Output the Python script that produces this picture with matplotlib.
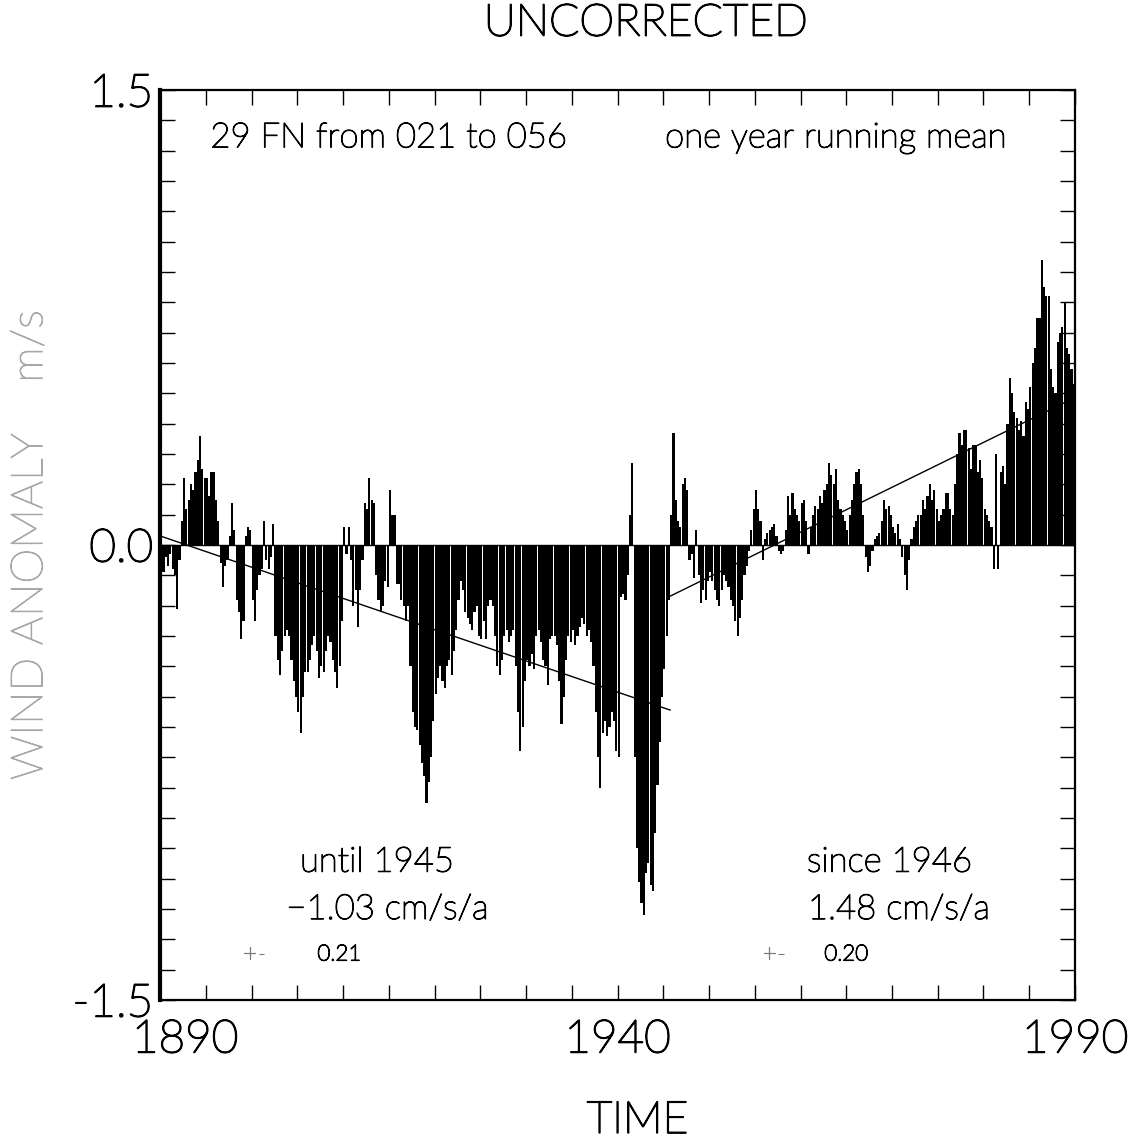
import numpy as np
import matplotlib
matplotlib.use("Agg")
import matplotlib.pyplot as plt
import matplotlib.patheffects as pe
from matplotlib.ticker import MultipleLocator, FixedLocator
from matplotlib.transforms import ScaledTranslation

# quarterly values of the one-year running mean wind anomaly (m/s), 1890-1989
start_year = 1890
steps_per_year = 4
anomaly = [
    -0.06, -0.09, -0.04, -0.07,   -0.03, -0.08, -0.10, -0.21,   # 1890-91
    -0.05, 0.08, 0.22, 0.12,      0.15, 0.20, 0.18, 0.24,       # 1892-93
    0.28, 0.36, 0.25, 0.22,       0.22, 0.16, 0.24, 0.24,       # 1894-95
    0.15, 0.08, -0.06, -0.14,     -0.07, -0.05, 0.03, 0.14,     # 1896-97
    0.05, -0.18, -0.22, -0.31,    -0.25, 0.03, 0.06, 0.05,      # 1898-99
    -0.18, -0.25, -0.15, -0.10,   -0.08, 0.08, -0.05, -0.08,    # 1900-01
    -0.04, 0.07, -0.30, -0.38,    -0.43, -0.35, -0.30, -0.28,   # 1902-03
    -0.30, -0.38, -0.45, -0.50,   -0.55, -0.62, -0.50, -0.42,   # 1904-05
    -0.42, -0.38, -0.33, -0.30,   -0.35, -0.44, -0.40, -0.42,   # 1906-07
    -0.35, -0.30, -0.32, -0.38,   -0.42, -0.47, -0.40, -0.25,   # 1908-09
    0.06, -0.03, 0.06, -0.05,     -0.20, -0.15, -0.27, -0.15,   # 1910-11
    -0.05, 0.14, 0.12, 0.22,      0.15, 0.14, -0.10, -0.18,     # 1912-13
    -0.22, -0.20, -0.12, -0.14,   0.18, 0.10, 0.10, -0.13,      # 1914-15
    -0.13, -0.18, -0.20, -0.25,   -0.20, -0.40, -0.55, -0.60,   # 1916-17
    -0.61, -0.66, -0.72, -0.76,   -0.85, -0.78, -0.70, -0.58,   # 1918-19
    -0.49, -0.44, -0.40, -0.45,   -0.47, -0.40, -0.38, -0.43,   # 1920-21
    -0.35, -0.28, -0.18, -0.12,   -0.15, -0.22, -0.24, -0.26,   # 1922-23
    -0.28, -0.22, -0.20, -0.30,   -0.31, -0.25, -0.31, -0.20,   # 1924-25
    -0.18, -0.20, -0.30, -0.40,   -0.43, -0.38, -0.30, -0.28,   # 1926-27
    -0.32, -0.30, -0.28, -0.40,   -0.55, -0.68, -0.60, -0.45,   # 1928-29
    -0.38, -0.40, -0.36, -0.41,   -0.30, -0.28, -0.32, -0.38,   # 1930-31
    -0.40, -0.46, -0.31, -0.30,   -0.30, -0.33, -0.45, -0.59,   # 1932-33
    -0.50, -0.38, -0.30, -0.32,   -0.28, -0.33, -0.30, -0.27,   # 1934-35
    -0.24, -0.26, -0.30, -0.28,   -0.32, -0.40, -0.55, -0.70,   # 1936-37
    -0.80, -0.62, -0.58, -0.63,   -0.60, -0.55, -0.58, -0.68,   # 1938-39
    -0.70, -0.17, -0.16, -0.18,   -0.10, 0.10, 0.27, -0.70,     # 1940-41
    -1.00, -1.11, -1.18, -1.22,   -1.08, -1.05, -1.12, -1.14,   # 1942-43
    -0.95, -0.79, -0.65, -0.50,   -0.41, -0.30, -0.18, 0.10,    # 1944-45
    0.37, 0.15, 0.08, 0.06,       0.20, 0.22, 0.18, -0.05,      # 1946-47
    -0.03, -0.11, 0.05, -0.10,    -0.19, -0.15, -0.18, -0.12,   # 1948-49
    -0.09, -0.12, -0.15, -0.18,   -0.20, -0.15, -0.10, -0.12,   # 1950-51
    -0.14, -0.18, -0.20, -0.25,   -0.30, -0.24, -0.18, -0.10,   # 1952-53
    -0.07, -0.02, 0.05, 0.12,     0.18, 0.12, 0.08, -0.05,      # 1954-55
    0.02, 0.04, 0.05, 0.06,       0.07, 0.03, -0.02, -0.03,     # 1956-57
    -0.02, 0.05, 0.16, 0.10,      0.17, 0.12, 0.10, 0.08,       # 1958-59
    0.14, 0.15, 0.08, -0.03,      0.06, 0.10, 0.13, 0.12,       # 1960-61
    0.16, 0.14, 0.18, 0.20,       0.27, 0.23, 0.20, 0.25,       # 1962-63
    0.15, 0.12, 0.10, 0.08,       0.05, 0.10, 0.15, 0.20,       # 1964-65
    0.24, 0.25, 0.20, 0.10,       -0.04, -0.09, -0.07, -0.02,   # 1966-67
    0.02, 0.03, 0.04, 0.08,       0.15, 0.12, 0.13, 0.10,       # 1968-69
    0.06, 0.04, 0.07, 0.02,       -0.04, -0.10, -0.15, -0.05,   # 1970-71
    0.02, 0.06, 0.08, 0.10,       0.10, 0.15, 0.12, 0.16,       # 1972-73
    0.20, 0.15, 0.18, 0.12,       0.08, 0.10, 0.12, 0.17,       # 1974-75
    0.17, 0.12, 0.10, 0.20,       0.30, 0.37, 0.33, 0.38,       # 1976-77
    0.38, 0.32, 0.25, 0.33,       0.33, 0.24, 0.28, 0.22,       # 1978-79
    0.12, 0.10, 0.08, 0.06,       -0.08, 0.30, -0.08, 0.24,     # 1980-81
    0.26, 0.20, 0.40, 0.55,       0.50, 0.44, 0.42, 0.38,       # 1982-83
    0.41, 0.36, 0.47, 0.45,       0.52, 0.60, 0.65, 0.75,       # 1984-85
    0.75, 0.94, 0.85, 0.82,       0.82, 0.58, 0.52, 0.50,       # 1986-87
    0.67, 0.70, 0.72, 0.80,       0.65, 0.63, 0.58, 0.53,       # 1988-89
]

# linear trends, slopes in cm/s per year
split_year = 1945.75
slope_early, err_early, level_1890 = -1.03, 0.21, 0.03
slope_late, err_late, level_1946 = 1.48, 0.20, -0.165

step = 1.0 / steps_per_year
years = start_year + step * (np.arange(len(anomaly)) + 0.5)

plt.rcParams["font.family"] = ["Lato", "DejaVu Sans"]
plt.rcParams["font.weight"] = "light"
plt.rcParams["axes.labelweight"] = "light"


def thin_ink(color="black", width=0.9):
    # light face with a thin outline so the strokes print solid
    return [pe.Stroke(linewidth=width, foreground=color), pe.Normal()]


fig = plt.figure(figsize=(11.39, 11.47), dpi=100)
ax = fig.add_axes([0.1405, 0.1282, 0.8033, 0.7933])

ax.bar(years, anomaly, width=step * 0.93, color="black", linewidth=0)
ax.axhline(0, color="black", lw=1.0)

t1 = np.array([1890, split_year])
ax.plot(t1, level_1890 + slope_early / 100 * (t1 - 1890), color="black", lw=1.0)
t2 = np.array([split_year, 1990])
ax.plot(t2, level_1946 + slope_late / 100 * (t2 - 1946), color="black", lw=1.0)

ax.set_xlim(1890, 1990)
ax.set_ylim(-1.5, 1.5)

ax.xaxis.set_major_locator(FixedLocator([1890, 1940, 1990]))
ax.xaxis.set_minor_locator(MultipleLocator(5))
ax.yaxis.set_major_locator(FixedLocator([-1.5, 0.0, 1.5]))
ax.yaxis.set_minor_locator(MultipleLocator(0.1))
ax.set_xticklabels(["1890", "1940", "1990"])
ax.set_yticklabels(["-1.5", "0.0", "1.5"])
ax.tick_params(which="both", direction="in", top=True, right=True,
               length=11, width=1.0, labelsize=33, colors="black")
ax.tick_params(axis="x", pad=14)
ax.tick_params(axis="y", pad=5)
for lbl in ax.get_xticklabels() + ax.get_yticklabels():
    lbl.set_path_effects(thin_ink(width=1.2))
# shift the first year label right so it clears the y label
lbl = ax.get_xticklabels()[0]
lbl.set_transform(lbl.get_transform() + ScaledTranslation(0.25, 0, fig.dpi_scale_trans))

for side in ["top", "right", "bottom"]:
    ax.spines[side].set_linewidth(1.6)
ax.spines["left"].set_linewidth(3)

ax.set_xlabel("TIME", fontsize=32, fontweight="light", path_effects=thin_ink(width=1.2))
ax.xaxis.set_label_coords(0.522, -0.112)
ax.set_ylabel("WIND ANOMALY    m/s", fontsize=32, fontweight="light", color="#a8a8a8",
              path_effects=thin_ink("#a8a8a8", 0.8))
ax.yaxis.set_label_coords(-0.12, 0.5)
fig.text(0.567, 0.979, "UNCORRECTED", fontsize=32, ha="center", va="center",
         path_effects=thin_ink(width=1.2))

kw = dict(transform=ax.transAxes, va="center", path_effects=thin_ink())
pm = dict(transform=ax.transAxes, va="center", color="#777777",
          path_effects=thin_ink("#777777", 0.8))
ax.text(0.055, 0.948, "29 FN from 021 to 056", fontsize=25, **kw)
ax.text(0.552, 0.948, "one year running mean", fontsize=25, **kw)

ax.text(0.153, 0.152, "until 1945", fontsize=25, **kw)
ax.text(0.138, 0.1, f"{slope_early:.2f} cm/s/a".replace("-", "\u2212"), fontsize=25, **kw)
ax.text(0.09, 0.05, "+-", fontsize=18, **pm)
ax.text(0.172, 0.05, f"{err_early:.2f}", fontsize=16, **kw)

ax.text(0.707, 0.152, "since 1946", fontsize=25, **kw)
ax.text(0.708, 0.1, f"{slope_late:.2f} cm/s/a", fontsize=25, **kw)
ax.text(0.658, 0.05, "+-", fontsize=18, **pm)
ax.text(0.726, 0.05, f"{err_late:.2f}", fontsize=16, **kw)

fig.savefig("out.png", dpi=100, facecolor="white")
